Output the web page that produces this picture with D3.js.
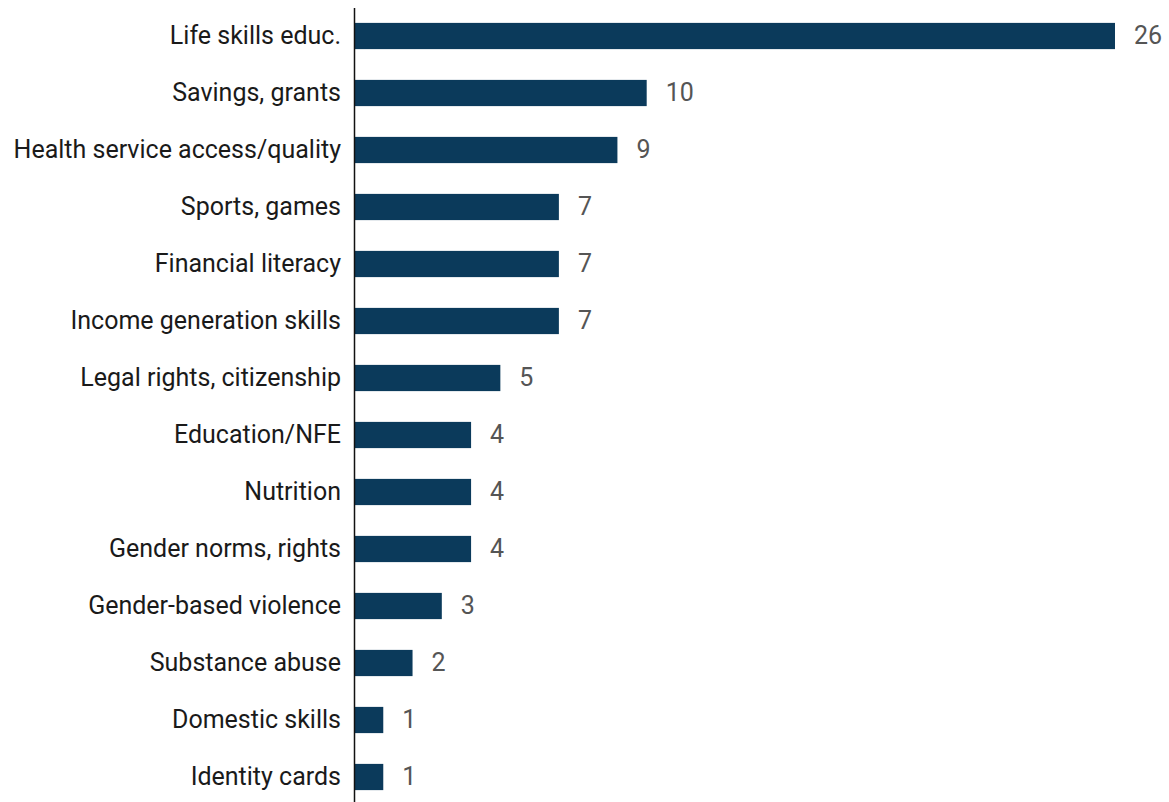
<!DOCTYPE html>
<html><head><meta charset="utf-8">
<script src="https://cdn.jsdelivr.net/npm/d3@7"></script>
<style>body{margin:0;background:#fff;}svg{display:block;}</style>
</head><body>
<script>
const categories = ["Life skills educ.","Savings, grants","Health service access/quality","Sports, games","Financial literacy","Income generation skills","Legal rights, citizenship","Education/NFE","Nutrition","Gender norms, rights","Gender-based violence","Substance abuse","Domestic skills","Identity cards"];
const values = [26,10,9,7,7,7,5,4,4,4,3,2,1,1];

const W = 1169, H = 802;
const svg = d3.select("body").append("svg").attr("width", W).attr("height", H);
const x = d3.scaleLinear().domain([0, 26]).range([354, 1115]);
const y = d3.scaleBand().domain(categories).range([7.5, 805.5]).paddingInner(0.54).paddingOuter(0.27);

svg.selectAll("rect.bar").data(categories).join("rect")
  .attr("x", x(0)).attr("y", d => y(d))
  .attr("width", (d,i) => x(values[i]) - x(0))
  .attr("height", y.bandwidth())
  .attr("fill", "#0b3a5b");

svg.append("line").attr("x1", 354.5).attr("x2", 354.5).attr("y1", 8).attr("y2", H)
  .attr("stroke", "#111").attr("stroke-width", 1.5);

svg.selectAll("text.cat").data(categories).join("text")
  .attr("x", 341).attr("y", d => y(d) + y.bandwidth()/2)
  .attr("dy", "0.3em").attr("text-anchor", "end")
  .attr("font-family", "Roboto, sans-serif").attr("font-size", 25)
  .attr("fill", "#1a1a1a").text(d => d);

svg.selectAll("text.val").data(categories).join("text")
  .attr("x", (d,i) => x(values[i]) + 19).attr("y", d => y(d) + y.bandwidth()/2)
  .attr("dy", "0.3em")
  .attr("font-family", "Roboto, sans-serif").attr("font-size", 25)
  .attr("fill", "#555").text((d,i) => values[i]);
</script>
</body></html>
